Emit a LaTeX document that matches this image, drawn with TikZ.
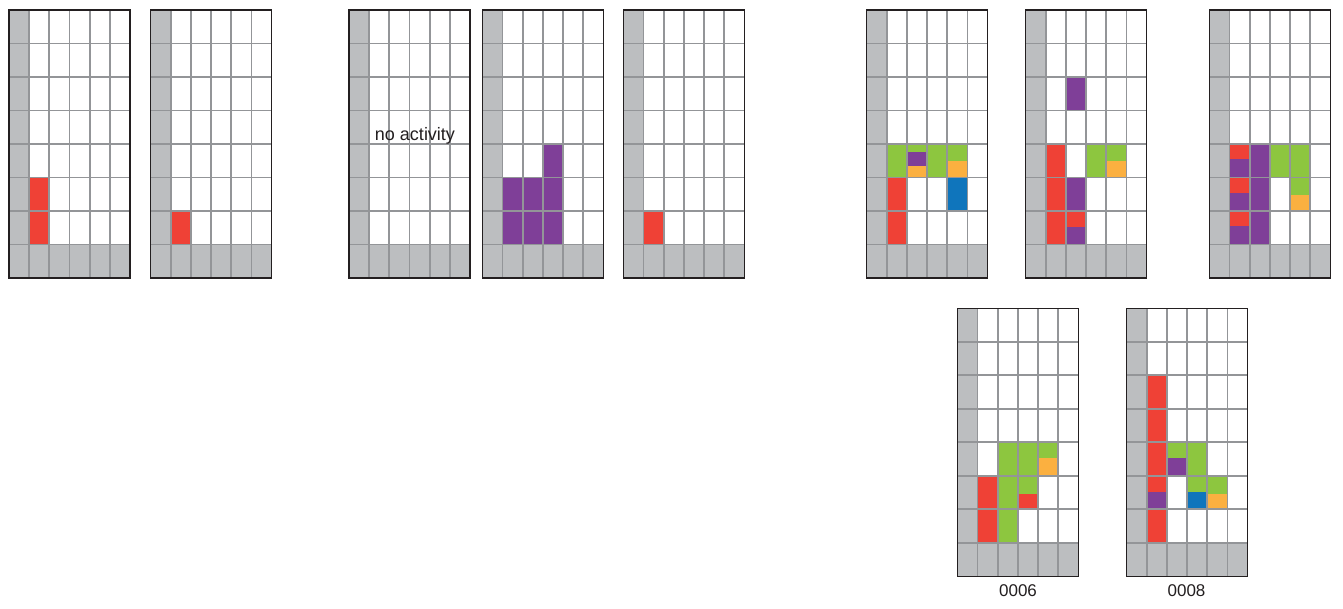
\documentclass[tikz,border=0pt]{standalone}
\usepackage{fontspec}
\setmainfont{Liberation Sans}
\definecolor{cgray}{HTML}{BCBEC0}
\definecolor{lgray}{HTML}{939598}
\definecolor{bord}{HTML}{231F20}
\definecolor{cred}{HTML}{EF4136}
\definecolor{cpur}{HTML}{7F3F98}
\definecolor{cgrn}{HTML}{8DC63F}
\definecolor{corg}{HTML}{FBB040}
\definecolor{cblu}{HTML}{0F75BC}
\tikzset{
  gline/.style={draw=lgray,line width=1.8pt},
  gborder/.style={draw=bord,line width=1.3pt},
  lbl/.style={inner sep=0pt,anchor=base,font=\fontsize{17}{19}\selectfont,text=bord},
}
\newcommand\drawgrid[3]{%
  \begin{scope}[shift={(#1,#2)},x=20.167pt,y=-33.5pt]
    \fill[white] (0,0) rectangle (6,8);
    \fill[cgray] (0,0) rectangle (1,8);
    \fill[cgray] (0,7) rectangle (6,8);
    #3
    \foreach \i in {1,...,5} \draw[gline] (\i,0) -- (\i,8);
    \foreach \j in {1,...,7} \draw[gline] (0,\j) -- (6,\j);
    \draw[gborder] (0,0) rectangle (6,8);
  \end{scope}}
\begin{document}
\begin{tikzpicture}[x=1pt,y=-1pt]
\useasboundingbox[fill=white] (0,0) rectangle (1343,608);
% top row
\drawgrid{9}{10}{\fill[cred] (1,5) rectangle (2,7);}
\drawgrid{150.7}{10}{\fill[cred] (1,6) rectangle (2,7);}
\drawgrid{349}{10}{}
\drawgrid{482.3}{10}{%
  \fill[cpur] (1,5) rectangle (3,7);
  \fill[cpur] (3,4) rectangle (4,7);}
\drawgrid{623.3}{10}{\fill[cred] (1,6) rectangle (2,7);}
\drawgrid{866.7}{10}{%
  \fill[cgrn] (1,4) rectangle (5,5);
  \fill[cpur] (2,4.25) rectangle (3.05,4.65);
  \fill[corg] (2,4.65) rectangle (3,5);
  \fill[corg] (4,4.52) rectangle (5,5);
  \fill[cblu] (4,5) rectangle (5,6);
  \fill[cred] (1,5) rectangle (2,7);}
\drawgrid{1025.7}{10}{%
  \fill[cpur] (2,2) rectangle (3,3);
  \fill[cred] (1,4) rectangle (2,7);
  \fill[cgrn] (3,4) rectangle (5,5);
  \fill[corg] (4,4.52) rectangle (5,5);
  \fill[cpur] (2,5) rectangle (3,7);
  \fill[cred] (2,6) rectangle (3,6.49);}
\drawgrid{1209.3}{10}{%
  \fill[cpur] (1,4) rectangle (3,7);
  \fill[cred] (1,4) rectangle (2,4.45);
  \fill[cred] (1,5) rectangle (2,5.45);
  \fill[cred] (1,6) rectangle (2,6.45);
  \fill[cgrn] (3,4) rectangle (5,5);
  \fill[cgrn] (4,5) rectangle (5,6);
  \fill[corg] (4,5.52) rectangle (5,6);}
% bottom row
\drawgrid{957.3}{308.3}{%
  \fill[cred] (1,5) rectangle (2,7);
  \fill[cgrn] (2,4) rectangle (3,7);
  \fill[cgrn] (3,4) rectangle (4,6);
  \fill[cred] (3,5.53) rectangle (4,6);
  \fill[cgrn] (4,4) rectangle (5,5);
  \fill[corg] (4,4.46) rectangle (5,5);}
\drawgrid{1126.7}{308.3}{%
  \fill[cred] (1,2) rectangle (2,7);
  \fill[cpur] (1,5.47) rectangle (2,6);
  \fill[cgrn] (2,4) rectangle (4,5);
  \fill[cpur] (2,4.46) rectangle (3,5);
  \fill[cgrn] (3,5) rectangle (5,6);
  \fill[cblu] (3,5.47) rectangle (4,6);
  \fill[corg] (4,5.55) rectangle (5,6);}
% labels
\node[lbl,font=\fontsize{18}{20}\selectfont] (noact) at (415,140) {no activity};
\node[lbl] (l6) at (1018,596) {0006};
\node[lbl] (l8) at (1186.5,596) {0008};
\end{tikzpicture}
\end{document}
